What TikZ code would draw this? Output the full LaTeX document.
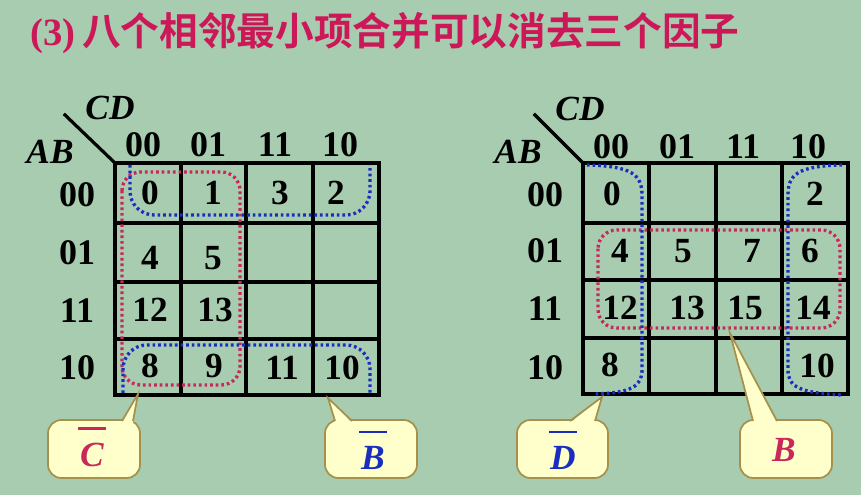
\documentclass[tikz,border=0pt]{standalone}
\usepackage{fontspec}
\setmainfont{Liberation Serif}
\newfontfamily\cjk{Noto Sans CJK SC}[BoldFont={* Bold}]
\usepackage{xcolor}
\definecolor{bgreen}{RGB}{168,204,176}
\definecolor{titlered}{RGB}{204,24,88}
\definecolor{loopred}{RGB}{200,40,90}
\definecolor{loopblue}{RGB}{25,45,190}
\definecolor{callfill}{RGB}{255,255,204}
\definecolor{calledge}{RGB}{165,145,75}
\newcommand{\barlbl}[1]{\shortstack[c]{\rule{0.78em}{1.6pt}\\[7pt]#1}}

\begin{document}
\begin{tikzpicture}[x=0.75pt,y=0.75pt,yscale=-1,xscale=1,
    num/.style={inner sep=0.75pt,font=\bfseries\fontsize{26.5}{26.5}\selectfont},
    head/.style={inner sep=0.75pt,font=\bfseries\fontsize{27}{27}\selectfont},
    var/.style={inner sep=0.75pt,font=\bfseries\itshape\fontsize{26.5}{26.5}\selectfont},
    grid/.style={line width=2.4pt,line cap=rect},
    redloop/.style={color=loopred,line width=2.5pt,dash pattern={on 2pt off 2.2pt}},
    blueloop/.style={color=loopblue,line width=2.5pt,dash pattern={on 2pt off 2.2pt}},
    callout/.style={fill=callfill,draw=calledge,line width=1.3pt,rounded corners=10}]
    \useasboundingbox[fill=bgreen] (0,0) rectangle (861,495);

    % Text Node
    \draw (30,33) node [anchor=west,inner sep=0pt,color=titlered] (title) {{\bfseries\fontsize{29}{29}\selectfont(3)}\hspace{5pt}{\cjk\bfseries\fontsize{29}{29}\selectfont 八个相邻最小项合并可以消去三个因子}};

    %Shape: Grid left
    \draw [grid] (115,163) rectangle (379,395) ;
    \draw [grid] (181,163) -- (181,395) (246,163) -- (246,395) (313,163) -- (313,395) ;
    \draw [grid] (115,223) -- (379,223) (115,282) -- (379,282) (115,339) -- (379,339) ;
    \draw [grid] (65,115) -- (115,163) ;
    %Shape: Grid right
    \draw [grid] (583,163) rectangle (848,394) ;
    \draw [grid] (649,163) -- (649,394) (716,163) -- (716,394) (782,163) -- (782,394) ;
    \draw [grid] (583,223) -- (848,223) (583,280) -- (848,280) (583,338) -- (848,338) ;
    \draw [grid] (535,115) -- (583,163) ;

    % Text Node
    \draw (110,108) node [var] (cdl) {CD};
    \draw (50,152) node [var] (abl) {AB};
    \draw (580,109) node [var] (cdr) {CD};
    \draw (518,152) node [var] (abr) {AB};
    % Text Node
    \draw (143,145) node [head] (hl00) {00};
    \draw (208,145) node [head] (hl01) {01};
    \draw (275,145) node [head] (hl11) {11};
    \draw (340,145) node [head] (hl10) {10};
    \draw (611,147) node [head] (hr00) {00};
    \draw (677,147) node [head] (hr01) {01};
    \draw (743,147) node [head] (hr11) {11};
    \draw (808,147) node [head] (hr10) {10};
    % Text Node
    \draw (77,195) node [head] (rl00) {00};
    \draw (77,253) node [head] (rl01) {01};
    \draw (77,311) node [head] (rl11) {11};
    \draw (77,368) node [head] (rl10) {10};
    \draw (545,195) node [head] (rr00) {00};
    \draw (545,251) node [head] (rr01) {01};
    \draw (545,309) node [head] (rr11) {11};
    \draw (545,368) node [head] (rr10) {10};

    % Text Node
    \draw (150,193) node [num] (l0) {0};
    \draw (213,193) node [num] (l1) {1};
    \draw (280,193) node [num] (l3) {3};
    \draw (336,193) node [num] (l2) {2};
    \draw (150,258) node [num] (l4) {4};
    \draw (213,258) node [num] (l5) {5};
    \draw (150,310) node [num] (l12) {12};
    \draw (215,310) node [num] (l13) {13};
    \draw (150,366) node [num] (l8) {8};
    \draw (214,366) node [num] (l9) {9};
    \draw (282,368) node [num] (l11) {11};
    \draw (342,368) node [num] (l10) {10};
    % Text Node
    \draw (612,194) node [num] (r0) {0};
    \draw (815,194) node [num] (r2) {2};
    \draw (620,251) node [num] (r4) {4};
    \draw (683,251) node [num] (r5) {5};
    \draw (752,251) node [num] (r7) {7};
    \draw (810,251) node [num] (r6) {6};
    \draw (620,308) node [num] (r12) {12};
    \draw (687,308) node [num] (r13) {13};
    \draw (745,308) node [num] (r15) {15};
    \draw (813,308) node [num] (r14) {14};
    \draw (610,365) node [num] (r8) {8};
    \draw (817,366) node [num] (r10) {10};

    %Shape: Loops left
    \draw [redloop,rounded corners=14] (122,172) rectangle (240,385) ;
    \draw [blueloop,rounded corners=18] (130,165) -- (130,215) -- (370,215) -- (370,165) ;
    \draw [blueloop,rounded corners=18] (123,393) -- (123,345) -- (370,345) -- (370,393) ;
    %Shape: Loops right
    \draw [redloop,rounded corners=14] (598,230) rectangle (840,328) ;
    \draw [blueloop] (587,165) .. controls (632,166) and (642,175) .. (642,195) -- (642,370) .. controls (642,387) and (630,393) .. (594,394) ;
    \draw [blueloop] (842,165) .. controls (797,166) and (788,175) .. (788,195) -- (788,370) .. controls (788,387) and (800,393) .. (842,395) ;

    %Shape: Callouts
    \draw [callout] (48,420) rectangle (140,478) ;
    \fill [callfill] (122,423) -- (138,394) -- (133,423) -- cycle ;
    \draw [calledge,line width=1.3pt] (122,421) -- (138,394) -- (133,421) ;
    \draw [callout] (325,420) rectangle (417,478) ;
    \fill [callfill] (335,423) -- (328,398) -- (352,423) -- cycle ;
    \draw [calledge,line width=1.3pt] (335,421) -- (328,398) -- (352,421) ;
    \draw [callout] (517,420) rectangle (608,478) ;
    \fill [callfill] (570,423) -- (602,397) -- (595,423) -- cycle ;
    \draw [calledge,line width=1.3pt] (570,421) -- (602,397) -- (595,421) ;
    \draw [callout] (740,420) rectangle (832,478) ;
    \fill [callfill] (753,423) -- (730,333) -- (777,423) -- cycle ;
    \draw [calledge,line width=1.3pt] (753,421) -- (730,333) -- (777,421) ;

    % Text Node
    \draw (92,447) node [var,color=loopred] (cbar) {\barlbl{C}};
    \draw (373,450) node [var,color=loopblue] (bbar) {\barlbl{B}};
    \draw (563,450) node [var,color=loopblue] (dbar) {\barlbl{D}};
    \draw (784,450) node [var,color=loopred] (bpos) {B};

\end{tikzpicture}
\end{document}
